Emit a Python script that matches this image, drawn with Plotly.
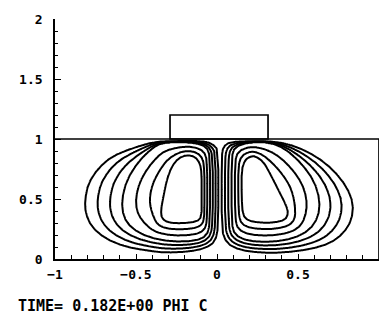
import numpy as np
import plotly.graph_objects as go

# ---------------- data ----------------
X_TICK_VALS = [-1, -0.5, 0, 0.5, 1]
X_TICK_TEXT = ["\u22121", "\u22120.5", "0", "0.5", "1"]
Y_TICK_VALS = [0, 0.5, 1, 1.5, 2]
Y_TICK_TEXT = ["0", "0.5", "1", "1.5", "2"]

BOX_X = [-0.29, 0.315]      # plate above the domain
BOX_TOP = 1.2
DOMAIN_TOP = 1.0
DOMAIN_X = [-1.0, 1.0]
SPLIT_X = 0.0125            # line between the two cells

N_LEVELS = 7                # contour lines per cell (inner, middle = 4th, outer)

# left cell: centre, innermost loop, middle loop, outermost loop
LEFT_CENTER = (-0.22, 0.58)
LEFT_INNER_X = [-0.187, -0.136, -0.105, -0.095, -0.095, -0.095, -0.125, -0.218,
                -0.301, -0.341, -0.346, -0.331, -0.310, -0.280, -0.239]
LEFT_INNER_Y = [0.867, 0.853, 0.797, 0.714, 0.519, 0.353, 0.311, 0.297,
                0.303, 0.339, 0.408, 0.519, 0.658, 0.769, 0.839]
LEFT_MID_X = [-0.239, -0.341, -0.403, -0.486, -0.557, -0.588, -0.578, -0.527,
              -0.424, -0.280, -0.136, -0.064, -0.043, -0.043, -0.064, -0.136]
LEFT_MID_Y = [0.975, 0.969, 0.922, 0.811, 0.658, 0.492, 0.353, 0.256,
              0.181, 0.144, 0.150, 0.192, 0.297, 0.853, 0.936, 0.969]
LEFT_OUTER_X = [-0.24, -0.383, -0.527, -0.650, -0.733, -0.794, -0.815, -0.811,
                -0.774, -0.691, -0.568, -0.424, -0.321, -0.177, -0.074, -0.012,
                0.008, 0.008, -0.033, -0.095]
LEFT_OUTER_Y = [0.983, 0.978, 0.922, 0.853, 0.756, 0.631, 0.492, 0.381,
                0.269, 0.172, 0.103, 0.069, 0.053, 0.061, 0.089, 0.144,
                0.269, 0.908, 0.964, 0.983]

# right cell
RIGHT_CENTER = (0.28, 0.58)
RIGHT_INNER_X = [0.235, 0.286, 0.327, 0.379, 0.426, 0.440, 0.420, 0.348,
                 0.265, 0.193, 0.159, 0.152, 0.152, 0.173, 0.204]
RIGHT_INNER_Y = [0.858, 0.811, 0.714, 0.575, 0.450, 0.381, 0.325, 0.303,
                 0.303, 0.319, 0.367, 0.519, 0.742, 0.825, 0.853]
RIGHT_MID_X = [0.20, 0.33, 0.42, 0.52, 0.60, 0.635, 0.625, 0.57,
               0.47, 0.33, 0.19, 0.11, 0.09, 0.09, 0.11]
RIGHT_MID_Y = [0.975, 0.972, 0.92, 0.80, 0.65, 0.49, 0.35, 0.24,
               0.17, 0.14, 0.15, 0.20, 0.30, 0.85, 0.935]
RIGHT_OUTER_X = [0.22, 0.368, 0.492, 0.615, 0.718, 0.800, 0.841, 0.831,
                 0.780, 0.698, 0.574, 0.409, 0.265, 0.142, 0.060, 0.029,
                 0.029, 0.039, 0.080]
RIGHT_OUTER_Y = [0.983, 0.978, 0.936, 0.853, 0.742, 0.603, 0.464, 0.325,
                 0.214, 0.131, 0.081, 0.053, 0.053, 0.075, 0.131, 0.242,
                 0.853, 0.936, 0.975]

CAPTION = "TIME= 0.182E+00 PHI C"

# ---------------- field construction ----------------
def chaikin(xs, ys, n=1):
    p = np.column_stack([xs, ys]).astype(float)
    for _ in range(n):
        q = np.roll(p, -1, axis=0)
        a = 0.75 * p + 0.25 * q
        b = 0.25 * p + 0.75 * q
        p = np.empty((2 * len(a), 2))
        p[0::2] = a
        p[1::2] = b
    return p


def densify(p, k=16):
    q = np.roll(p, -1, axis=0)
    t = np.linspace(0, 1, k, endpoint=False)[None, :, None]
    pts = p[:, None, :] + (q - p)[:, None, :] * t
    return pts.reshape(-1, 2)


def polar_profile(center, xs, ys):
    p = densify(chaikin(xs, ys, 1))
    dx = p[:, 0] - center[0]
    dy = p[:, 1] - center[1]
    th = np.arctan2(dy, dx)
    r = np.hypot(dx, dy)
    o = np.argsort(th)
    return th[o], r[o]


def cell_field(center, loops, X, Y):
    dx = X - center[0]
    dy = Y - center[1]
    th = np.arctan2(dy, dx)
    rho = np.hypot(dx, dy)
    radii = []
    for xs, ys in loops:
        tl, rl = polar_profile(center, xs, ys)
        radii.append(np.interp(th, tl, rl, period=2 * np.pi))
    rin, rmid, rout = radii
    t_in = 0.5 * (rho - rin) / np.maximum(rmid - rin, 1e-6)
    t_out = 0.5 + 0.5 * (rho - rmid) / np.maximum(rout - rmid, 1e-6)
    t = np.where(rho < rmid, t_in, t_out)
    return np.clip(1 + (N_LEVELS - 1) * t, 0, N_LEVELS + 2)


gx = np.linspace(-1, 1, 481)
gy = np.linspace(0, 1.04, 261)
X, Y = np.meshgrid(gx, gy)
psi_l = cell_field(LEFT_CENTER, [(LEFT_INNER_X, LEFT_INNER_Y), (LEFT_MID_X, LEFT_MID_Y),
                                 (LEFT_OUTER_X, LEFT_OUTER_Y)], X, Y)
psi_r = cell_field(RIGHT_CENTER, [(RIGHT_INNER_X, RIGHT_INNER_Y), (RIGHT_MID_X, RIGHT_MID_Y),
                                  (RIGHT_OUTER_X, RIGHT_OUTER_Y)], X, Y)
psi = np.where(X < SPLIT_X, psi_l, psi_r)
psi = np.round(psi, 3)

# ---------------- figure ----------------
fig = go.Figure()
fig.add_trace(go.Contour(
    x=gx, y=gy, z=psi,
    contours=dict(start=1, end=N_LEVELS, size=1, coloring="none", showlabels=False),
    line=dict(color="black", width=2, smoothing=0),
    showscale=False, hoverinfo="skip",
))

LW = 1.7
fig.add_shape(type="line", x0=DOMAIN_X[0], x1=DOMAIN_X[1], y0=DOMAIN_TOP, y1=DOMAIN_TOP,
              line=dict(color="black", width=LW))
fig.add_shape(type="line", x0=DOMAIN_X[1], x1=DOMAIN_X[1], y0=0, y1=DOMAIN_TOP,
              line=dict(color="black", width=LW))
fig.add_shape(type="rect", x0=BOX_X[0], x1=BOX_X[1], y0=DOMAIN_TOP, y1=BOX_TOP,
              line=dict(color="black", width=LW), fillcolor="rgba(0,0,0,0)")

tick_font = dict(family="DejaVu Sans Mono", size=13, color="black", weight="bold")
fig.update_xaxes(
    range=[-1, 1], tickmode="array", tickvals=X_TICK_VALS, ticktext=X_TICK_TEXT,
    ticks="inside", ticklen=5, tickwidth=1.4, tickcolor="black",
    minor=dict(tickmode="linear", tick0=-1, dtick=0.1, ticks="inside", ticklen=4,
               tickwidth=1.4, tickcolor="black"),
    showline=True, linecolor="black", linewidth=LW, showgrid=False, zeroline=False,
    tickfont=tick_font, ticklabelstandoff=3,
)
fig.update_yaxes(
    range=[0, 2], tickmode="array", tickvals=Y_TICK_VALS, ticktext=Y_TICK_TEXT,
    ticks="inside", ticklen=6, tickwidth=1.4, tickcolor="black",
    minor=dict(tickmode="linear", tick0=0, dtick=0.1, ticks="inside", ticklen=3,
               tickwidth=1.4, tickcolor="black"),
    showline=True, linecolor="black", linewidth=LW, showgrid=False, zeroline=False,
    tickfont=tick_font, ticklabelstandoff=8,
)
fig.add_annotation(
    text=CAPTION, xref="paper", yref="paper", x=(16 - 55) / 324, y=(259 - 306) / 240,
    xanchor="left", yanchor="middle", showarrow=False,
    font=dict(family="DejaVu Sans Mono", size=15, color="black", weight="bold"),
)
fig.update_layout(
    width=382, height=320, margin=dict(l=55, r=3, t=19, b=61),
    paper_bgcolor="white", plot_bgcolor="white", showlegend=False,
)
fig.write_html("out.html")
